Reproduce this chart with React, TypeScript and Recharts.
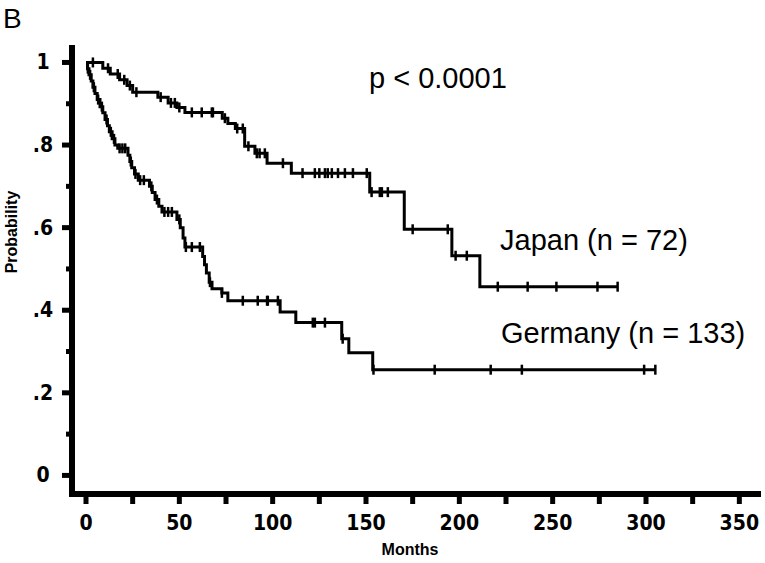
import React from 'react';
import { LineChart, Line, XAxis, YAxis } from 'recharts';

// Kaplan-Meier steps (months, survival probability)
const japanEventTimes = [0, 9, 13, 18, 22, 25, 38.5, 44, 48.7, 53, 73, 76, 80, 85, 90.5, 97, 110, 152, 170.5, 196, 211];
const japanSurvival = [1.0, 0.986, 0.972, 0.958, 0.944, 0.928, 0.916, 0.902, 0.891, 0.879, 0.865, 0.852, 0.84, 0.797, 0.78, 0.756, 0.732, 0.686, 0.596, 0.532, 0.457];
const japanCensored = [
  3.7, 11.8, 17, 20.5, 23.5, 27, 40, 45.5, 47.6, 50, 56.7, 62, 67.4, 68, 74.4, 81, 84, 87, 91.5, 93, 95.8,
  105.5, 116, 122.6, 125, 128, 129.5, 131.7, 135, 138.7, 143, 150.4, 153, 157.4, 158.5, 161.7, 175, 193.8,
  198, 204, 220.6, 236.6, 252, 274, 284.8,
];

const germanyEventTimes = [
  0, 0.8, 1.6, 2.8, 3.7, 4.8, 6, 7.5, 9, 10.2, 11.5, 12.5, 14, 15.5, 17, 22.5, 23.5, 24.5, 26, 28, 34, 35.5,
  37, 39, 40.7, 48.7, 50.5, 52, 53, 62.5, 63.5, 64.5, 66, 67.5, 72.8, 76, 104, 112.4, 137, 140.8, 153.6,
];
const germanySurvival = [
  1.0, 0.985, 0.97, 0.955, 0.94, 0.925, 0.91, 0.893, 0.878, 0.862, 0.847, 0.832, 0.815, 0.8, 0.792, 0.775, 0.76,
  0.745, 0.73, 0.715, 0.7, 0.685, 0.668, 0.652, 0.638, 0.62, 0.6, 0.575, 0.553, 0.53, 0.51, 0.49, 0.468, 0.452,
  0.442, 0.423, 0.396, 0.37, 0.331, 0.297, 0.256,
];
const germanyCensored = [
  1, 2.2, 4.2, 6.5, 8.5, 11, 13.3, 15, 18, 19.5, 21, 24, 26.5, 29, 31, 35, 38, 42, 44, 46, 50, 53.5, 56.7, 61,
  66.4, 72.8, 84, 92, 97, 97.4, 102.8, 121.5, 122.6, 128, 137.5, 154, 186.8, 216.8, 233.5, 299, 305,
];

const xTicks = [0, 25, 50, 75, 100, 125, 150, 175, 200, 225, 250, 275, 300, 325, 350];
const yTicks = [0, 0.1, 0.2, 0.3, 0.4, 0.5, 0.6, 0.7, 0.8, 0.9, 1];

interface KmPoint {
  t: number;
  s: number;
  censored: boolean;
}

const buildCurve = (times: number[], surv: number[], censored: number[]): KmPoint[] => {
  const pts: KmPoint[] = times.map((t, i) => ({ t, s: surv[i], censored: false }));
  censored.forEach((c) => {
    let s = surv[0];
    times.forEach((t, i) => {
      if (t <= c) s = surv[i];
    });
    pts.push({ t: c, s, censored: true });
  });
  return pts.sort((a, b) => a.t - b.t || Number(a.censored) - Number(b.censored));
};

const japanData = buildCurve(japanEventTimes, japanSurvival, japanCensored);
const germanyData = buildCurve(germanyEventTimes, germanySurvival, germanyCensored);

const tickFont = "'Liberation Sans Narrow', 'DejaVu Sans Condensed', 'Arial Narrow', sans-serif";
const textFont = "'Liberation Sans', Arial, Helvetica, sans-serif";

const CensorMark = (props: any) => {
  const { cx, cy, payload, index } = props;
  if (!payload || !payload.censored || cx == null) return <g key={`n-${index}`} />;
  return <line key={`c-${index}`} x1={cx} x2={cx} y1={cy - 5} y2={cy + 5} stroke="#000" strokeWidth={2.5} />;
};

const XTick = (props: any) => {
  const { x, y, payload } = props;
  const major = payload.value % 50 === 0;
  return (
    <g>
      <line x1={x} x2={x} y1={y} y2={y + 10} stroke="#000" strokeWidth={5} />
      {major && (
        <text x={x} y={y + 36} textAnchor="middle" fontFamily={tickFont} fontWeight="bold" fontSize={21} fill="#000">
          {payload.value}
        </text>
      )}
    </g>
  );
};

const YTick = (props: any) => {
  const { x, y, payload } = props;
  const tenth = Math.round(payload.value * 10);
  const major = tenth % 2 === 0;
  const label = tenth === 0 ? '0' : tenth === 10 ? '1' : '.' + tenth;
  return (
    <g>
      <line x1={x - (major ? 10 : 6)} x2={x} y1={y} y2={y} stroke="#000" strokeWidth={5} />
      {major && (
        <text x={x - 29} y={y + 7} textAnchor="middle" fontFamily={tickFont} fontWeight="bold" fontSize={21} fill="#000">
          {label}
        </text>
      )}
    </g>
  );
};

const axisStyle = { stroke: '#000', strokeWidth: 6, strokeLinecap: 'square' as const };

export default function App() {
  return (
    <div style={{ position: 'absolute', left: 0, top: 0, width: 765, height: 563, background: '#fff' }}>
      <LineChart width={765} height={563} margin={{ top: 48, right: 7, bottom: 0, left: 0 }}>
        <XAxis
          type="number"
          dataKey="t"
          domain={[-7.5, 360]}
          ticks={xTicks}
          interval={0}
          allowDataOverflow
          height={69}
          tickSize={0}
          tickMargin={0}
          tickLine={false}
          axisLine={axisStyle}
          tick={<XTick />}
        />
        <YAxis
          type="number"
          dataKey="s"
          domain={[-0.045, 1.035]}
          ticks={yTicks}
          interval={0}
          allowDataOverflow
          width={72}
          tickSize={0}
          tickMargin={0}
          tickLine={false}
          axisLine={axisStyle}
          tick={<YTick />}
        />
        <Line
          data={japanData}
          dataKey="s"
          type="stepAfter"
          stroke="#000"
          strokeWidth={3}
          dot={CensorMark}
          activeDot={false}
          isAnimationActive={false}
        />
        <Line
          data={germanyData}
          dataKey="s"
          type="stepAfter"
          stroke="#000"
          strokeWidth={3}
          dot={CensorMark}
          activeDot={false}
          isAnimationActive={false}
        />
      </LineChart>
      <svg width={765} height={563} style={{ position: 'absolute', left: 0, top: 0, pointerEvents: 'none' }}>
        <text x={3} y={28} fontFamily={textFont} fontSize={28} fill="#000">B</text>
        <text x={369} y={88} fontFamily={textFont} fontSize={29} fill="#000">p &lt; 0.0001</text>
        <text x={500} y={250} fontFamily={textFont} fontSize={29} fill="#000">Japan (n = 72)</text>
        <text x={501} y={343} fontFamily={textFont} fontSize={29} fill="#000">Germany (n = 133)</text>
        <text x={17} y={232} transform="rotate(-90, 17, 232)" textAnchor="middle" fontFamily={textFont} fontWeight="bold" fontSize={16} fill="#000">
          Probability
        </text>
        <text x={410} y={555} textAnchor="middle" fontFamily={textFont} fontWeight="bold" fontSize={16} fill="#000">
          Months
        </text>
      </svg>
    </div>
  );
}
